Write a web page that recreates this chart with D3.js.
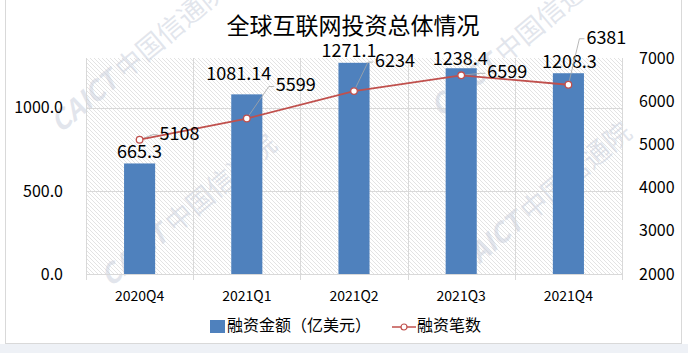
<!DOCTYPE html>
<html>
<head>
<meta charset="utf-8">
<script src="https://cdn.jsdelivr.net/npm/d3@7"></script>
<style>
  body { margin: 0; background: #fff; }
  svg { display: block; font-family: "Noto Sans CJK SC", "Noto Sans", sans-serif; }
</style>
</head>
<body>
<svg id="chart" width="688" height="353"></svg>
<script>
var quarters = ["2020Q4", "2021Q1", "2021Q2", "2021Q3", "2021Q4"];
var amount = [665.3, 1081.14, 1271.1, 1238.4, 1208.3];   // 融资金额（亿美元）
var amountText = ["665.3", "1081.14", "1271.1", "1238.4", "1208.3"];
var deals = [5108, 5599, 6234, 6599, 6381];              // 融资笔数
var leftTicks = [0, 500, 1000];
var rightTicks = [2000, 3000, 4000, 5000, 6000, 7000];

// label nudges (dx, dy)
var barLabelPos = [[0, -10.5], [-8, -19.5], [-5, -11], [-1, -8.5], [1, -10]];
var dealLabelPos = [[20, -5], [29, -32], [21, -29], [26, -2], [18, -46]];

var W = 688, H = 353,
    plot = { l: 86, r: 622, t: 58, b: 274 },
    blue = "#4f81bd", red = "#c0504d", grid = "#d9d9d9";

var svg = d3.select("#chart");

// page strip + frame
svg.append("rect").attr("x", 0).attr("y", 344).attr("width", W).attr("height", 9).attr("fill", "#eef1f6");
svg.append("rect").attr("x", 5.5).attr("y", -1).attr("width", 676).attr("height", 344.5)
  .attr("fill", "#fff").attr("stroke", grid);

// hatch for plot area
var defs = svg.append("defs");
defs.append("pattern")
  .attr("id", "hatch").attr("patternUnits", "userSpaceOnUse")
  .attr("width", 4).attr("height", 4)
  .append("path").attr("d", "M-1,-1 L5,5 M-1,3 L1,5 M3,-1 L5,1")
  .attr("stroke", "#dcdcdc").attr("stroke-width", 0.8);

var x = d3.scaleBand().domain(quarters).range([plot.l, plot.r]);
var yL = d3.scaleLinear().domain([0, 1300]).range([plot.b, plot.t]);
var yR = d3.scaleLinear().domain([2000, 7000]).range([plot.b, plot.t]);

svg.append("rect").attr("x", plot.l).attr("y", plot.t)
  .attr("width", plot.r - plot.l).attr("height", plot.b - plot.t)
  .attr("fill", "url(#hatch)");

// watermarks
var wm = [[140, 58], [520, 42], [190, 212], [545, 200]];
svg.append("g").selectAll("text").data(wm).enter().append("text")
  .attr("transform", function (d) { return "translate(" + d[0] + "," + d[1] + ") rotate(-40)"; })
  .attr("text-anchor", "middle").attr("dominant-baseline", "middle")
  .attr("font-size", 27).attr("fill", "#c5ccda").attr("fill-opacity", 0.5)
  .html(function () { return '<tspan font-weight="bold" font-style="italic">CAICT</tspan> 中国信通院'; });

// grid
svg.append("g").selectAll("line").data(leftTicks.slice(1)).enter().append("line")
  .attr("x1", plot.l).attr("x2", plot.r)
  .attr("y1", function (d) { return Math.round(yL(d)) + 0.5; })
  .attr("y2", function (d) { return Math.round(yL(d)) + 0.5; })
  .attr("stroke", grid);
var bounds = quarters.map(function (q) { return x(q); }).concat([plot.r]);
svg.append("g").selectAll("line").data(bounds).enter().append("line")
  .attr("x1", function (d) { return Math.round(d) + 0.5; })
  .attr("x2", function (d) { return Math.round(d) + 0.5; })
  .attr("y1", plot.t).attr("y2", plot.b + 6)
  .attr("stroke", grid);
svg.append("line").attr("x1", plot.l).attr("x2", plot.r)
  .attr("y1", plot.b + 0.5).attr("y2", plot.b + 0.5).attr("stroke", grid);

// axes
var axL = svg.append("g").attr("transform", "translate(" + (plot.l - 20) + ",0)")
  .call(d3.axisLeft(yL).tickValues(leftTicks).tickFormat(d3.format(".1f")).tickSize(0));
var axR = svg.append("g").attr("transform", "translate(" + (plot.r + 14) + ",0)")
  .call(d3.axisRight(yR).tickValues(rightTicks).tickFormat(d3.format("d")).tickSize(0));
var axB = svg.append("g").attr("transform", "translate(0," + (plot.b + 14) + ")")
  .call(d3.axisBottom(x).tickSize(0));
[axL, axR, axB].forEach(function (a) {
  a.select(".domain").remove();
  a.selectAll("text").attr("font-size", 16).attr("fill", "#000")
    .attr("font-family", "'Noto Sans CJK SC', sans-serif");
});
axB.selectAll("text").attr("font-size", 14);

// bars
var bw = x.bandwidth() * 0.29;
var px = function (i) { return x(quarters[i]) + x.bandwidth() / 2; };
svg.append("g").selectAll("rect").data(amount).enter().append("rect")
  .attr("x", function (d, i) { return px(i) - bw / 2; })
  .attr("y", function (d) { return yL(d); })
  .attr("width", bw)
  .attr("height", function (d) { return plot.b - yL(d); })
  .attr("fill", blue);

svg.append("g").selectAll("text").data(amount).enter().append("text")
  .attr("x", function (d, i) { return px(i) + barLabelPos[i][0]; })
  .attr("y", function (d, i) { return yL(d) + barLabelPos[i][1]; })
  .attr("text-anchor", "middle").attr("dominant-baseline", "middle").attr("font-size", 18)
  .text(function (d, i) { return amountText[i]; });

// leader lines for deal labels
svg.append("g").selectAll("path").data(deals).enter().append("path")
  .attr("d", function (d, i) {
    var x0 = px(i), y0 = yR(d), o = dealLabelPos[i];
    var x1 = x0 + o[0] - 7, y1 = y0 + o[1];
    return "M" + x0 + "," + y0 + "L" + x1 + "," + y1 + "L" + (x1 + 5) + "," + y1;
  })
  .attr("fill", "none").attr("stroke", "#a6a6a6").attr("stroke-width", 0.8);

// line + markers
var line = d3.line().x(function (d, i) { return px(i); }).y(function (d) { return yR(d); });
svg.append("path").datum(deals).attr("d", line)
  .attr("fill", "none").attr("stroke", red).attr("stroke-width", 1.8);
svg.append("g").selectAll("circle").data(deals).enter().append("circle")
  .attr("cx", function (d, i) { return px(i); })
  .attr("cy", function (d) { return yR(d); })
  .attr("r", 3.3).attr("fill", "#fff").attr("stroke", red).attr("stroke-width", 1.3);

svg.append("g").selectAll("text").data(deals).enter().append("text")
  .attr("x", function (d, i) { return px(i) + dealLabelPos[i][0]; })
  .attr("y", function (d, i) { return yR(d) + dealLabelPos[i][1]; })
  .attr("dominant-baseline", "middle").attr("font-size", 18)
  .text(function (d) { return d; });

// title
svg.append("text").attr("x", 353).attr("y", 28)
  .attr("text-anchor", "middle").attr("dominant-baseline", "middle")
  .attr("font-size", 23).text("全球互联网投资总体情况");

// legend
var lg = svg.append("g").attr("transform", "translate(210,327)");
lg.append("rect").attr("x", 0).attr("y", -7).attr("width", 15).attr("height", 13).attr("fill", blue);
lg.append("text").attr("x", 17).attr("y", 0).attr("dominant-baseline", "middle")
  .attr("font-size", 16).text("融资金额（亿美元）");
lg.append("line").attr("x1", 182).attr("x2", 206).attr("y1", 0).attr("y2", 0)
  .attr("stroke", red).attr("stroke-width", 1.5);
lg.append("circle").attr("cx", 194).attr("cy", 0).attr("r", 3)
  .attr("fill", "#fff").attr("stroke", red).attr("stroke-width", 1.2);
lg.append("text").attr("x", 207).attr("y", 0).attr("dominant-baseline", "middle")
  .attr("font-size", 16).text("融资笔数");
</script>
</body>
</html>
